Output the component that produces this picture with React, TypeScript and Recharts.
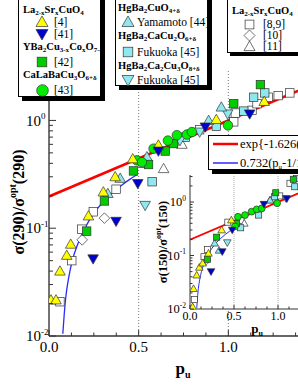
import React from "react";
import { ComposedChart, Scatter, Line, XAxis, YAxis, ReferenceLine } from "recharts";

const FONT = "'Liberation Serif', 'Times New Roman', serif";

// main panel, sigma(290)/sigma_opt(290) against p_u : [p_u, ratio]
const lsco4 = [
  [0.011, 0.0216], [0.039, 0.0216], [0.061, 0.04], [0.099, 0.056], [0.121, 0.071],
  [0.22, 0.13], [0.303, 0.217], [0.369, 0.3], [0.467, 0.44], [0.61, 0.59], [0.933, 1.02], [1.2, 1.5],
];
const lsco41 = [[0.246, 0.052], [0.374, 0.116], [0.495, 0.26], [0.61, 0.52], [0.872, 0.87], [1.119, 1.15]];
const ybco42 = [
  [0.21, 0.094], [0.309, 0.179], [0.471, 0.34], [0.555, 0.39], [0.648, 0.52], [0.694, 0.61], [1.03, 1.43], [1.179, 2.15],
];
const clbco43 = [
  [0.49, 0.426], [0.518, 0.41], [0.583, 0.547], [0.663, 0.65], [0.713, 0.73], [0.769, 0.74], [0.797, 0.78], [0.998, 0.9],
];
const hg1201 = [[0.328, 0.21], [0.397, 0.29], [0.546, 0.46], [0.89, 1.0], [0.961, 1.33]];
const hg1212 = [[0.575, 0.27], [0.76, 0.7], [0.933, 0.885], [1.086, 1.22], [1.141, 1.64], [1.203, 1.8]];
const hg1223 = [[0.536, 0.163], [0.73, 0.65], [0.84, 0.78], [0.996, 1.15]];
const lsco89 = [
  [0.061, 0.0208], [0.127, 0.05], [0.183, 0.098], [0.247, 0.142], [0.374, 0.23], [0.525, 0.4], [0.84, 0.82],
  [1.03, 0.97], [1.039, 1.17], [1.132, 1.24], [1.16, 1.43], [1.222, 1.64], [1.278, 1.7], [1.343, 1.8],
];
const lsco10 = [[0.185, 0.078], [0.309, 0.124]];
const lsco11 = [[0.639, 0.357], [0.741, 0.6]];

// inset, sigma(150)/sigma_opt(150)
const inLsco4 = [[0.03, 0.011], [0.04, 0.024], [0.076, 0.043], [0.106, 0.06], [0.144, 0.072], [0.21, 0.11], [0.36, 0.3], [0.47, 0.46]];
const inLsco41 = [[0.239, 0.05], [0.367, 0.118], [0.48, 0.3], [0.84, 0.91], [1.1, 1.15]];
const inYbco42 = [[0.197, 0.085], [0.303, 0.22], [0.53, 0.4], [0.974, 1.49], [1.174, 2.66]];
const inClbco43 = [[0.511, 0.35], [0.545, 0.53], [0.625, 0.57], [0.7, 0.66], [0.758, 0.73], [0.815, 0.76], [0.99, 0.95]];
const inHg1201 = [[0.28, 0.17], [0.33, 0.125], [0.91, 1.08]];
const inHg1212 = [[0.576, 0.33], [0.78, 0.57], [0.96, 1.25], [1.19, 1.93], [1.21, 2.75]];
const inHg1223 = [[0.424, 0.174], [1.09, 1.17]];
const inLsco89 = [[0.049, 0.015], [0.159, 0.095], [0.2, 0.13], [0.43, 0.42], [0.58, 0.45], [0.97, 1.26], [1.02, 1.3], [1.136, 2.24]];
const inLsco10 = [[0.19, 0.08]];
const inLsco11 = [[0.617, 0.4], [0.909, 1.09]];

// fitted curves
const redFit = [[0, 0.197], [1.5, 2.25]];
const blueFit = [
  [0.077, 0.0105], [0.085, 0.016], [0.095, 0.024], [0.11, 0.035], [0.13, 0.05], [0.16, 0.071], [0.2, 0.1],
  [0.25, 0.137], [0.3, 0.174], [0.35, 0.21], [0.4, 0.247], [0.45, 0.284], [0.49, 0.313],
];

const xMajor = [0, 0.5, 1.0];
const xTickLabels = ["0.0", "0.5", "1.0"];
const xMinor = [0.125, 0.25, 0.375, 0.625, 0.75, 0.875, 1.125, 1.25, 1.375];
const yMajor = [0.01, 0.1, 1];
const yExp = ["-2", "-1", "0"];
const yMinor = [0.02, 0.03, 0.04, 0.05, 0.06, 0.07, 0.08, 0.09, 0.2, 0.3, 0.4, 0.5, 0.6, 0.7, 0.8, 0.9, 2, 3];

const xTicks = [...xMajor, ...xMinor].sort((a, b) => a - b);
const yTicks = [...yMajor, ...yMinor].sort((a, b) => a - b);
const pts = (a: number[][]) => a.map(([p, v]) => ({ p, v }));

const YEL = "#ffff00";
const BLU = "#0000cc";
const GSQ = "#00cc00";
const GCI = "#00ee00";
const CYA = "#8fe8f0";
const WHT = "#ffffff";
const EDGE = "#333";

function shape(kind: string, fill: string, cx: number, cy: number, r: number) {
  const common = { fill, stroke: EDGE, strokeWidth: 0.7 };
  if (kind === "up")
    return <polygon {...common} points={`${cx},${cy - r} ${cx + r},${cy + r * 0.75} ${cx - r},${cy + r * 0.75}`} />;
  if (kind === "down")
    return <polygon {...common} points={`${cx - r},${cy - r * 0.75} ${cx + r},${cy - r * 0.75} ${cx},${cy + r}`} />;
  if (kind === "square") {
    const s = r * 0.8;
    return <rect {...common} x={cx - s} y={cy - s} width={2 * s} height={2 * s} />;
  }
  if (kind === "diamond")
    return <polygon {...common} points={`${cx},${cy - r} ${cx + r},${cy} ${cx},${cy + r} ${cx - r},${cy}`} />;
  return <circle {...common} cx={cx} cy={cy} r={r * 0.9} />;
}

const marker = (kind: string, fill: string, r: number) => (props: any) => {
  const { cx, cy } = props;
  if (cx == null || cy == null) return <g />;
  return shape(kind, fill, cx, cy, r);
};

const mainSeries = [
  { data: lsco89, kind: "square", fill: WHT },
  { data: lsco10, kind: "diamond", fill: WHT },
  { data: lsco11, kind: "up", fill: WHT },
  { data: hg1212, kind: "square", fill: CYA },
  { data: hg1223, kind: "down", fill: CYA },
  { data: hg1201, kind: "up", fill: CYA },
  { data: ybco42, kind: "square", fill: GSQ },
  { data: clbco43, kind: "circle", fill: GCI },
  { data: lsco4, kind: "up", fill: YEL },
  { data: lsco41, kind: "down", fill: BLU },
];
const insetSeries = [
  { data: inLsco89, kind: "square", fill: WHT },
  { data: inLsco10, kind: "diamond", fill: WHT },
  { data: inLsco11, kind: "up", fill: WHT },
  { data: inHg1212, kind: "square", fill: CYA },
  { data: inHg1223, kind: "down", fill: CYA },
  { data: inHg1201, kind: "up", fill: CYA },
  { data: inYbco42, kind: "square", fill: GSQ },
  { data: inClbco43, kind: "circle", fill: GCI },
  { data: inLsco4, kind: "up", fill: YEL },
  { data: inLsco41, kind: "down", fill: BLU },
];

const bottomTick = (big: number, small: number, fs: number, off: number) => (props: any) => {
  const { x, y, payload } = props;
  const i = xMajor.indexOf(payload.value);
  return (
    <g>
      <line x1={x} x2={x} y1={y} y2={y - (i >= 0 ? big : small)} stroke="#333" />
      {i >= 0 && (
        <text x={x} y={y + off} textAnchor="middle" fontSize={fs} fontFamily={FONT} fill="#000">
          {xTickLabels[i]}
        </text>
      )}
    </g>
  );
};

const topTick = (big: number, small: number) => (props: any) => {
  const { x, y, payload } = props;
  const i = xMajor.indexOf(payload.value);
  return <line x1={x} x2={x} y1={y} y2={y + (i >= 0 ? big : small)} stroke="#333" />;
};

const leftTick = (big: number, small: number, fs: number, anchorStart: boolean, dx: number) => (props: any) => {
  const { x, y, payload } = props;
  const i = yMajor.indexOf(payload.value);
  return (
    <g>
      <line x1={x} x2={x + (i >= 0 ? big : small)} y1={y} y2={y} stroke="#333" />
      {i >= 0 && (
        <text
          x={x - dx}
          y={y + fs * 0.35}
          textAnchor={anchorStart ? "start" : "end"}
          fontSize={fs}
          fontFamily={FONT}
          fill="#000"
        >
          10
          <tspan dy={-fs * 0.45} fontSize={fs * 0.6}>
            {yExp[i]}
          </tspan>
        </text>
      )}
    </g>
  );
};

const subStyle: React.CSSProperties = { fontSize: 7, lineHeight: 0, verticalAlign: "-2px" };

function Txt({ x, y, fs, bold, children }: any) {
  return (
    <div
      style={{
        position: "absolute",
        left: x,
        top: y - 7,
        height: 14,
        lineHeight: "14px",
        fontSize: fs,
        fontWeight: bold ? "bold" : "normal",
        fontFamily: FONT,
        whiteSpace: "nowrap",
        color: "#000",
      }}
    >
      {children}
    </div>
  );
}

function Glyph({ x, y, kind, fill, r }: any) {
  return (
    <svg style={{ position: "absolute", left: x - r - 1, top: y - r - 1 }} width={2 * r + 2} height={2 * r + 2}>
      {shape(kind, fill, r + 1, r + 1, r)}
    </svg>
  );
}

function Box({ left, top, width, height, sh }: any) {
  return (
    <div
      style={{
        position: "absolute",
        left,
        top,
        width,
        height,
        boxSizing: "border-box",
        border: "1px solid #000",
        background: "#fff",
        boxShadow: `${sh}px ${sh}px 0 #000`,
      }}
    />
  );
}

export default function App() {
  return (
    <div
      style={{
        position: "fixed",
        left: 0,
        top: 0,
        width: 298,
        height: 385,
        overflow: "hidden",
        background: "#fff",
        fontFamily: FONT,
      }}
    >
      {/* main panel */}
      <div style={{ position: "absolute", left: 0, top: 0 }}>
        <ComposedChart width={318} height={385} margin={{ top: 69, right: 0, bottom: 0, left: 0 }}>
          <XAxis
            xAxisId="x"
            dataKey="p"
            type="number"
            domain={[0, 1.5]}
            allowDataOverflow
            ticks={xTicks}
            interval={0}
            tickLine={false}
            tickSize={0}
            tickMargin={0}
            height={49}
            axisLine={{ stroke: "#333", strokeWidth: 1.3 }}
            tick={bottomTick(6, 3.5, 15, 16)}
          />
          <XAxis
            xAxisId="top"
            orientation="top"
            type="number"
            domain={[0, 1.5]}
            allowDataOverflow
            ticks={xTicks}
            interval={0}
            tickLine={false}
            tickSize={0}
            tickMargin={0}
            height={0}
            axisLine={{ stroke: "#333", strokeWidth: 1.3 }}
            tick={topTick(6, 3.5)}
          />
          <YAxis
            yAxisId="y"
            dataKey="v"
            type="number"
            scale="log"
            domain={[0.01, 3]}
            allowDataOverflow
            ticks={yTicks}
            interval={0}
            tickLine={false}
            tickSize={0}
            tickMargin={0}
            width={49}
            axisLine={{ stroke: "#444", strokeWidth: 1.5 }}
            tick={leftTick(7, 4, 15, true, 23)}
          />
          <ReferenceLine xAxisId="x" yAxisId="y" x={0.5} stroke="#777" strokeDasharray="1 2" />
          <ReferenceLine xAxisId="x" yAxisId="y" x={1.0} stroke="#777" strokeDasharray="1 2" />
          <Line
            xAxisId="x"
            yAxisId="y"
            data={pts(blueFit)}
            dataKey="v"
            type="monotone"
            stroke="#2a2aff"
            strokeWidth={1.3}
            dot={false}
            isAnimationActive={false}
          />
          <Line
            xAxisId="x"
            yAxisId="y"
            data={pts(redFit)}
            dataKey="v"
            type="linear"
            stroke="#ff0000"
            strokeWidth={2.6}
            dot={false}
            isAnimationActive={false}
          />
          {mainSeries.map((s, i) => (
            <Scatter
              key={i}
              xAxisId="x"
              yAxisId="y"
              data={pts(s.data)}
              dataKey="v"
              shape={marker(s.kind, s.fill, 5.3)}
              isAnimationActive={false}
            />
          ))}
        </ComposedChart>
      </div>

      {/* inset panel */}
      <div style={{ position: "absolute", left: 150, top: 165 }}>
        <div style={{ position: "absolute", left: 40, top: 10, width: 132, height: 134, background: "#fff" }} />
        <div style={{ position: "absolute", left: 0, top: 0 }}>
          <ComposedChart width={172} height={164} margin={{ top: 10, right: 0, bottom: 0, left: 0 }}>
            <XAxis
              xAxisId="x"
              dataKey="p"
              type="number"
              domain={[0, 1.5]}
              allowDataOverflow
              ticks={xTicks}
              interval={0}
              tickLine={false}
              tickSize={0}
              tickMargin={0}
              height={20}
              axisLine={{ stroke: "#333" }}
              tick={bottomTick(4, 2.5, 12, 11)}
            />
            <XAxis
              xAxisId="top"
              orientation="top"
              type="number"
              domain={[0, 1.5]}
              allowDataOverflow
              ticks={xTicks}
              interval={0}
              tickLine={false}
              tickSize={0}
              tickMargin={0}
              height={0}
              axisLine={{ stroke: "#333" }}
              tick={topTick(4, 2.5)}
            />
            <YAxis
              yAxisId="y"
              dataKey="v"
              type="number"
              scale="log"
              domain={[0.01, 3.2]}
              allowDataOverflow
              ticks={yTicks}
              interval={0}
              tickLine={false}
              tickSize={0}
              tickMargin={0}
              width={40}
              axisLine={{ stroke: "#333" }}
              tick={leftTick(4, 2.5, 12.5, false, 4)}
            />
            <ReferenceLine xAxisId="x" yAxisId="y" x={0.5} stroke="#aaa" strokeDasharray="1 1" />
            <ReferenceLine xAxisId="x" yAxisId="y" x={1.0} stroke="#aaa" strokeDasharray="1 1" />
            <Line
              xAxisId="x"
              yAxisId="y"
              data={pts(blueFit)}
              dataKey="v"
              type="monotone"
              stroke="#2a2aff"
              strokeWidth={1}
              dot={false}
              isAnimationActive={false}
            />
            <Line
              xAxisId="x"
              yAxisId="y"
              data={pts(redFit)}
              dataKey="v"
              type="linear"
              stroke="#ff0000"
              strokeWidth={1.8}
              dot={false}
              isAnimationActive={false}
            />
            {insetSeries.map((s, i) => (
              <Scatter
                key={i}
                xAxisId="x"
                yAxisId="y"
                data={pts(s.data)}
                dataKey="v"
                shape={marker(s.kind, s.fill, 3.8)}
                isAnimationActive={false}
              />
            ))}
          </ComposedChart>
        </div>
      </div>

      {/* axis titles */}
      <svg style={{ position: "absolute", left: 0, top: 0 }} width={298} height={385}>
        <text
          transform="translate(18,202) rotate(-90)"
          textAnchor="middle"
          dominantBaseline="central"
          fontSize={16}
          fontWeight="bold"
          fontFamily={FONT}
        >
          σ(290)/σ<tspan dy={-6} fontSize={10}>opt</tspan>
          <tspan dy={6}>(290)</tspan>
        </text>
        <text x={183} y={374} textAnchor="middle" fontSize={17} fontWeight="bold" fontFamily={FONT}>
          p<tspan dy={4} fontSize={10}>u</tspan>
        </text>
        <text
          transform="translate(163,242) rotate(-90)"
          textAnchor="middle"
          dominantBaseline="central"
          fontSize={12.5}
          fontWeight="bold"
          fontFamily={FONT}
        >
          σ(150)/σ<tspan dy={-5} fontSize={8}>opt</tspan>
          <tspan dy={5}>(150)</tspan>
        </text>
        <text x={257} y={333} textAnchor="middle" fontSize={13} fontWeight="bold" fontFamily={FONT}>
          p<tspan dy={3} fontSize={8}>u</tspan>
        </text>
      </svg>

      {/* legend: fits */}
      <Box left={208} top={135} width={110} height={35} sh={4} />
      <svg style={{ position: "absolute", left: 210, top: 138 }} width={30} height={30}>
        <line x1={3} x2={28} y1={6} y2={6} stroke="#ff0000" strokeWidth={2.5} />
        <line x1={3} x2={28} y1={25} y2={25} stroke="#2a2aff" strokeWidth={1.5} />
      </svg>
      <Txt x={240} y={144} fs={12.5}>
        exp{"{"}-1.626(1-p<sub style={subStyle}>u</sub>){"}"}
      </Txt>
      <Txt x={240} y={163} fs={12.5}>
        0.732(p<sub style={subStyle}>u</sub>-1/16)
      </Txt>

      {/* legend: La2-xSrxCuO4, YBCO, CLBCO */}
      <Box left={18} top={-5} width={83} height={102} sh={4} />
      <Txt x={23} y={10} fs={10.5} bold>
        La<sub style={subStyle}>2-x</sub>Sr<sub style={subStyle}>x</sub>CuO<sub style={subStyle}>4</sub>
      </Txt>
      <Glyph x={42} y={22} kind="up" fill={YEL} r={6} />
      <Txt x={54} y={22} fs={11.5}>[4]</Txt>
      <Glyph x={42} y={34} kind="down" fill={BLU} r={6} />
      <Txt x={54} y={34} fs={11.5}>[41]</Txt>
      <Txt x={23} y={47} fs={10.5} bold>
        YBa<sub style={subStyle}>2</sub>Cu<sub style={subStyle}>3-x</sub>Co<sub style={subStyle}>x</sub>O<sub style={subStyle}>7-δ</sub>
      </Txt>
      <Glyph x={42} y={62} kind="square" fill={GSQ} r={6} />
      <Txt x={54} y={62} fs={11.5}>[42]</Txt>
      <Txt x={23} y={75} fs={10.5} bold>
        CaLaBaCu<sub style={subStyle}>3</sub>O<sub style={subStyle}>6+δ</sub>
      </Txt>
      <Glyph x={42} y={90} kind="circle" fill={GCI} r={6.5} />
      <Txt x={54} y={90} fs={11.5}>[43]</Txt>

      {/* legend: Hg compounds */}
      <Box left={115} top={-5} width={93} height={91} sh={4} />
      <Txt x={118} y={8} fs={10.5} bold>
        HgBa<sub style={subStyle}>2</sub>CuO<sub style={subStyle}>4+δ</sub>
      </Txt>
      <Glyph x={128} y={22} kind="up" fill={CYA} r={6} />
      <Txt x={137} y={22} fs={11.5}>Yamamoto [44]</Txt>
      <Txt x={118} y={36} fs={10.5} bold>
        HgBa<sub style={subStyle}>2</sub>CaCu<sub style={subStyle}>2</sub>O<sub style={subStyle}>6+δ</sub>
      </Txt>
      <Glyph x={128} y={52} kind="square" fill={CYA} r={6} />
      <Txt x={137} y={52} fs={11.5}>Fukuoka [45]</Txt>
      <Txt x={118} y={66} fs={10.5} bold>
        HgBa<sub style={subStyle}>2</sub>Ca<sub style={subStyle}>2</sub>Cu<sub style={subStyle}>3</sub>O<sub style={subStyle}>8+δ</sub>
      </Txt>
      <Glyph x={128} y={80} kind="down" fill={CYA} r={6} />
      <Txt x={137} y={80} fs={11.5}>Fukuoka [45]</Txt>

      {/* legend: La2-xSrxCuO4 refs */}
      <Box left={227} top={-5} width={90} height={58} sh={3} />
      <Txt x={232} y={11} fs={10.5} bold>
        La<sub style={subStyle}>2-x</sub>Sr<sub style={subStyle}>x</sub>CuO<sub style={subStyle}>4</sub>
      </Txt>
      <Glyph x={249} y={24} kind="square" fill={WHT} r={5.5} />
      <Txt x={263} y={24} fs={11.5}>[8,9]</Txt>
      <Glyph x={249} y={35} kind="diamond" fill={WHT} r={5.5} />
      <Txt x={263} y={35} fs={11.5}>[10]</Txt>
      <Glyph x={249} y={46} kind="up" fill={WHT} r={5.5} />
      <Txt x={263} y={46} fs={11.5}>[11]</Txt>
    </div>
  );
}
